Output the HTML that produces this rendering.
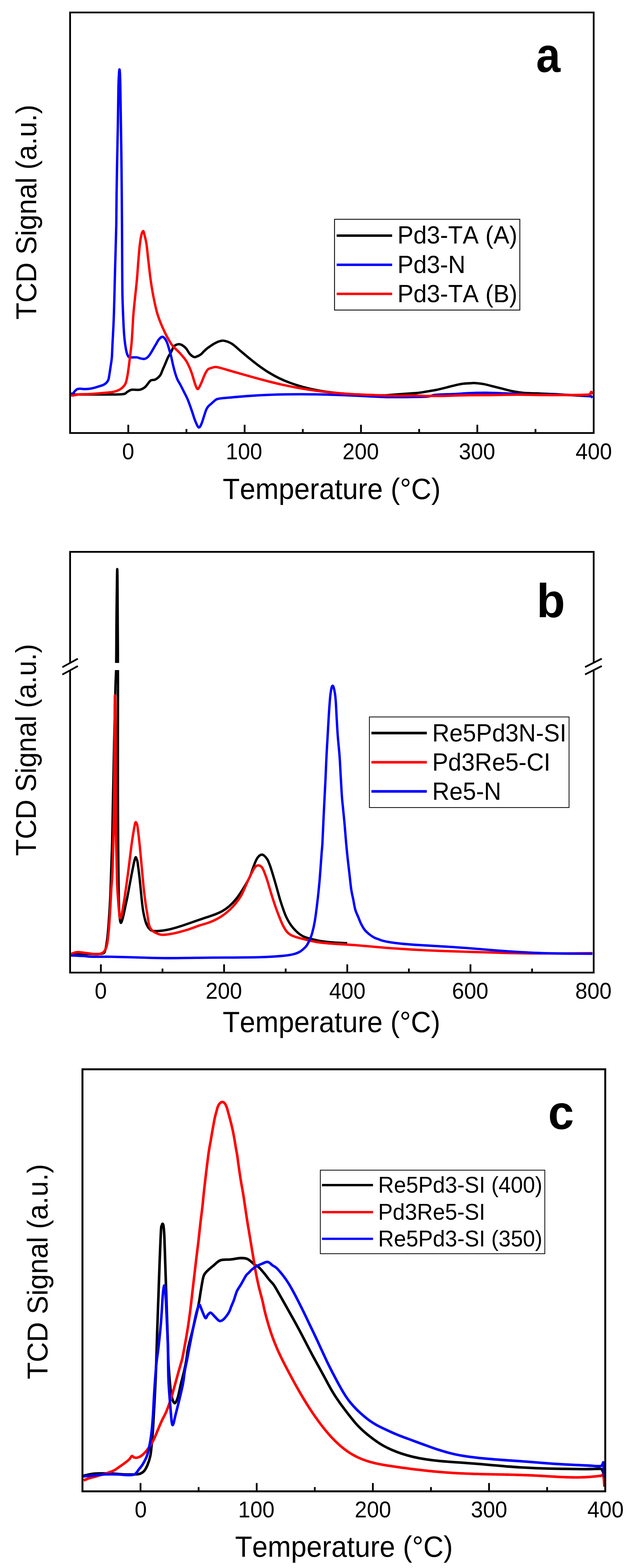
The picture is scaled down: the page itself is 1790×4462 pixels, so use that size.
<!DOCTYPE html>
<html><head><meta charset="utf-8"><title>TCD Signal vs Temperature</title>
<style>html,body{margin:0;padding:0;background:#fff;}svg{display:block;}</style></head>
<body><svg width="1790" height="4462" viewBox="0 0 1790 4462" font-family="'Liberation Sans', Arial, sans-serif" fill="#000" style="font-kerning:none"><g>
<path d="M200,1122.6 C212.9,1122.6 252.88,1122.72 277.4,1122.6 C301.92,1122.48 332.9,1123.18 347.1,1121.9 C361.3,1120.62 358.08,1117.03 362.6,1114.9 C367.12,1112.77 368.38,1110.07 374.2,1109.1 C380.02,1108.13 391.03,1110.4 397.5,1109.1 C403.97,1107.8 407.83,1105.63 413,1101.3 C418.17,1096.97 423.67,1086.65 428.5,1083.1 C433.33,1079.55 437.48,1082.45 442,1080 C446.52,1077.55 452.1,1073.07 455.6,1068.4 C459.1,1063.73 460.43,1057.8 463,1052 C465.57,1046.2 468.5,1039.43 471,1033.6 C473.5,1027.77 475.42,1022.17 478,1017 C480.58,1011.83 483.78,1007.67 486.5,1002.6 C489.22,997.53 491.72,990.2 494.3,986.6 C496.88,983 499.42,982.2 502,981 C504.58,979.8 507.13,979.23 509.8,979.4 C512.47,979.57 514.78,980.07 518,982 C521.22,983.93 525.3,986.68 529.1,991 C532.9,995.32 536.92,1003.72 540.8,1007.9 C544.68,1012.08 549.2,1015 552.4,1016.1 C555.6,1017.2 556.78,1015.78 560,1014.5 C563.22,1013.22 568.37,1010.82 571.7,1008.4 C575.03,1005.98 576.95,1002.9 580,1000 C583.05,997.1 586.67,993.67 590,991 C593.33,988.33 596.77,986.15 600,984 C603.23,981.85 605.73,980.1 609.4,978.1 C613.07,976.1 617.48,973.43 622,972 C626.52,970.57 630.22,968.48 636.5,969.5 C642.78,970.52 651.92,973.42 659.7,978.1 C667.48,982.78 675.15,990.85 683.17,997.56 C691.2,1004.26 699.28,1011.36 707.87,1018.35 C716.46,1025.34 725.5,1032.74 734.73,1039.52 C743.97,1046.29 753.56,1052.99 763.28,1059.01 C773,1065.02 782.68,1070.53 793.04,1075.6 C803.41,1080.67 814.05,1085.19 825.46,1089.41 C836.88,1093.63 849,1097.48 861.52,1100.92 C874.04,1104.36 886.96,1107.42 900.57,1110.04 C914.18,1112.67 928.26,1114.81 943.2,1116.67 C958.14,1118.53 974.1,1119.89 990.24,1121.2 C1006.37,1122.51 1023.37,1123.87 1040,1124.5 C1056.63,1125.13 1073.55,1125.48 1090,1125 C1106.45,1124.52 1124.13,1122.6 1138.7,1121.6 C1153.27,1120.6 1167.72,1119.75 1177.4,1119 C1187.08,1118.25 1190.33,1117.97 1196.8,1117.1 C1203.27,1116.23 1209.75,1114.87 1216.2,1113.8 C1222.65,1112.73 1229.05,1111.92 1235.5,1110.7 C1241.95,1109.48 1248.45,1108.02 1254.9,1106.5 C1261.35,1104.98 1267.75,1103.22 1274.2,1101.6 C1280.65,1099.98 1286.87,1098.35 1293.6,1096.8 C1300.33,1095.25 1306.87,1093.35 1314.6,1092.3 C1322.33,1091.25 1333.85,1090.87 1340,1090.5 C1346.15,1090.13 1345.4,1089.68 1351.5,1090.1 C1357.6,1090.52 1368.25,1091.5 1376.6,1093 C1384.95,1094.5 1392.65,1096.88 1401.6,1099.1 C1410.55,1101.32 1420.75,1103.92 1430.3,1106.3 C1439.85,1108.68 1448.75,1111.43 1458.9,1113.4 C1469.05,1115.37 1479.85,1117.08 1491.2,1118.1 C1502.55,1119.12 1512.08,1118.9 1527,1119.5 C1541.92,1120.1 1562.8,1120.75 1580.7,1121.7 C1598.6,1122.65 1617.08,1124.18 1634.4,1125.2 C1651.72,1126.22 1676.23,1127.37 1684.6,1127.8" fill="none" stroke="#000" stroke-width="6.8" stroke-linejoin="round" stroke-linecap="butt"/>
<path d="M200,1120.5 C201.35,1120.3 206.07,1120.4 208.1,1119.3 C210.13,1118.2 210.38,1115.82 212.2,1113.9 C214.02,1111.98 216.52,1109.1 219,1107.8 C221.48,1106.5 223.48,1106.22 227.1,1106.1 C230.72,1105.98 236.18,1107.05 240.7,1107.1 C245.22,1107.15 249.68,1106.97 254.2,1106.4 C258.72,1105.83 263.28,1104.83 267.8,1103.7 C272.32,1102.57 276.78,1101.07 281.3,1099.6 C285.82,1098.13 291.28,1096.7 294.9,1094.9 C298.52,1093.1 300.75,1091.17 303,1088.8 C305.25,1086.43 307.05,1084.32 308.4,1080.7 C309.75,1077.08 310.3,1071.62 311.1,1067.1 C311.9,1062.58 312.52,1058.12 313.2,1053.6 C313.88,1049.08 314.35,1046.02 315.2,1040 C316.05,1033.98 317.47,1027.85 318.3,1017.5 C319.13,1007.15 319.33,995.5 320.2,977.9 C321.07,960.3 322.62,933.88 323.5,911.9 C324.38,889.92 324.9,867.98 325.5,846 C326.1,824.02 326.55,801 327.1,780 C327.65,759 328.17,743.33 328.8,720 C329.43,696.67 330.4,668.33 330.9,640 C331.4,611.67 331.37,581.67 331.8,550 C332.23,518.33 332.88,483.33 333.5,450 C334.12,416.67 334.92,383.33 335.5,350 C336.08,316.67 336.5,273 337,250 C337.5,227 338,220.75 338.5,212 C339,203.25 339.5,197.5 340,197.5 C340.5,197.5 341.08,203.25 341.5,212 C341.92,220.75 342.08,227 342.5,250 C342.92,273 343.5,316.67 344,350 C344.5,383.33 345.08,416.67 345.5,450 C345.92,483.33 346.17,508.33 346.5,550 C346.83,591.67 347.27,661.67 347.5,700 C347.73,738.33 347.72,755.67 347.9,780 C348.08,804.33 348.08,824.02 348.6,846 C349.12,867.98 350.23,894.32 351,911.9 C351.77,929.48 352.38,940.5 353.2,951.5 C354.02,962.5 354.9,970.2 355.9,977.9 C356.9,985.6 358,992.2 359.2,997.7 C360.4,1003.2 361.68,1007.77 363.1,1010.9 C364.52,1014.03 365.22,1015.48 367.7,1016.5 C370.18,1017.52 374.28,1016.92 378,1017 C381.72,1017.08 386.33,1016.5 390,1017 C393.67,1017.5 396.75,1019.25 400,1020 C403.25,1020.75 406.67,1021.67 409.5,1021.5 C412.33,1021.33 414.48,1020.67 417,1019 C419.52,1017.33 422.1,1014.67 424.6,1011.5 C427.1,1008.33 429.43,1004.25 432,1000 C434.57,995.75 438,989.43 440,986 C442,982.57 442,982.73 444,979.4 C446,976.07 449.1,969.5 452,966 C454.9,962.5 458.73,959.07 461.4,958.4 C464.07,957.73 465.73,959.4 468,962 C470.27,964.6 472.92,969.17 475,974 C477.08,978.83 478.58,984.67 480.5,991 C482.42,997.33 484.53,1004.17 486.5,1012 C488.47,1019.83 490.35,1029.88 492.3,1038 C494.25,1046.12 496.08,1053.7 498.2,1060.7 C500.32,1067.7 502.43,1074.2 505,1080 C507.57,1085.8 510.6,1089.83 513.6,1095.5 C516.6,1101.17 519.77,1107.55 523,1114 C526.23,1120.45 530,1127.37 533,1134.2 C536,1141.03 538.42,1147.9 541,1155 C543.58,1162.1 546.5,1170.8 548.5,1176.8 C550.5,1182.8 551.38,1186.47 553,1191 C554.62,1195.53 556.7,1200.5 558.2,1204 C559.7,1207.5 560.72,1209.92 562,1212 C563.28,1214.08 564.57,1216.33 565.9,1216.5 C567.23,1216.67 568.38,1215.75 570,1213 C571.62,1210.25 573.77,1205 575.6,1200 C577.43,1195 579.07,1188.8 581,1183 C582.93,1177.2 585.2,1169.7 587.2,1165.2 C589.2,1160.7 590.6,1158.78 593,1156 C595.4,1153.22 598.77,1151 601.6,1148.5 C604.43,1146 606.77,1143.27 610,1141 C613.23,1138.73 612.71,1136.61 621,1134.9 C629.29,1133.19 645.2,1132.12 659.72,1130.76 C674.24,1129.4 690.69,1127.92 708.11,1126.74 C725.53,1125.56 745.2,1124.44 764.23,1123.69 C783.26,1122.93 803.01,1122.47 822.31,1122.19 C841.6,1121.92 860.95,1121.89 879.99,1122.03 C899.03,1122.17 917.76,1122.53 936.54,1123.06 C955.32,1123.58 973.8,1124.37 992.66,1125.16 C1011.52,1125.95 1031.81,1126.99 1049.7,1127.8 C1067.59,1128.61 1081.95,1129.63 1100,1130 C1118.05,1130.37 1138.63,1130.22 1158,1130 C1177.37,1129.78 1203.28,1129.72 1216.2,1128.7 C1229.12,1127.68 1226.53,1125.02 1235.5,1123.9 C1244.47,1122.78 1259.25,1122.48 1270,1122 C1280.75,1121.52 1290,1121.53 1300,1121 C1310,1120.47 1316.05,1119.35 1330,1118.8 C1343.95,1118.25 1365.8,1117.58 1383.7,1117.7 C1401.6,1117.82 1416.5,1118.6 1437.4,1119.5 C1458.3,1120.4 1485.22,1122.5 1509.1,1123.1 C1532.98,1123.7 1556.83,1122.75 1580.7,1123.1 C1604.57,1123.45 1635.92,1124.55 1652.3,1125.2 C1668.68,1125.85 1673.38,1125.98 1679,1127 C1684.62,1128.02 1684.83,1130.58 1686,1131.3" fill="none" stroke="#00f" stroke-width="6.8" stroke-linejoin="round" stroke-linecap="butt"/>
<path d="M200,1124 C201.13,1124.23 202.28,1125.73 206.8,1125.4 C211.32,1125.07 219.2,1122.68 227.1,1122 C235,1121.32 245.17,1121.75 254.2,1121.3 C263.23,1120.85 272.27,1120.02 281.3,1119.3 C290.33,1118.58 301.62,1117.68 308.4,1117 C315.18,1116.32 317.48,1116.18 322,1115.2 C326.52,1114.22 331.95,1112.47 335.5,1111.1 C339.05,1109.73 340.57,1108.97 343.3,1107 C346.03,1105.03 349.48,1102.13 351.9,1099.3 C354.32,1096.47 356.03,1094.85 357.8,1090 C359.57,1085.15 361.07,1077.88 362.5,1070.2 C363.93,1062.52 365.2,1052.68 366.4,1043.9 C367.6,1035.12 368.38,1028.5 369.7,1017.5 C371.02,1006.5 373.08,991.1 374.3,977.9 C375.52,964.7 376.13,951.95 377,938.3 C377.87,924.65 378.33,910.72 379.5,896 C380.67,881.28 382.3,866.85 384,850 C385.7,833.15 388.12,812.4 389.7,794.9 C391.28,777.4 392.2,760.82 393.5,745 C394.8,729.18 396.08,712.5 397.5,700 C398.92,687.5 400.38,677.08 402,670 C403.62,662.92 405.7,657.83 407.2,657.5 C408.7,657.17 409.4,661.88 411,668 C412.6,674.12 414.97,682.2 416.8,694.2 C418.63,706.2 420.05,723.22 422,740 C423.95,756.78 426.5,779.9 428.5,794.9 C430.5,809.9 432.08,819.03 434,830 C435.92,840.97 437.83,850.7 440,860.7 C442.17,870.7 444.4,880.95 447,890 C449.6,899.05 452.6,907.17 455.6,915 C458.6,922.83 461.77,929.92 465,937 C468.23,944.08 470.77,949.8 475,957.5 C479.23,965.2 484.6,975.68 490.4,983.2 C496.2,990.72 503.35,995.5 509.8,1002.6 C516.25,1009.7 523.93,1018.05 529.1,1025.8 C534.27,1033.55 537.82,1042.4 540.8,1049.1 C543.78,1055.8 545.07,1060.2 547,1066 C548.93,1071.8 550.73,1078.57 552.4,1083.9 C554.07,1089.23 555.4,1094.15 557,1098 C558.6,1101.85 560.33,1106.33 562,1107 C563.67,1107.67 565.05,1105.2 567,1102 C568.95,1098.8 571.53,1092.8 573.7,1087.8 C575.87,1082.8 578.07,1076.52 580,1072 C581.93,1067.48 583.3,1064.2 585.3,1060.7 C587.3,1057.2 589.28,1053.28 592,1051 C594.72,1048.72 597.42,1048.05 601.6,1047 C605.78,1045.95 608.87,1043.55 617.1,1044.7 C625.33,1045.85 639.29,1050.64 650.99,1053.9 C662.68,1057.16 674.86,1060.72 687.28,1064.25 C699.7,1067.78 712.68,1071.53 725.51,1075.06 C738.33,1078.58 751.32,1082.13 764.23,1085.41 C777.14,1088.69 790.06,1091.87 802.97,1094.74 C815.88,1097.6 828.79,1100.2 841.69,1102.6 C854.6,1105 867.57,1107.16 880.41,1109.14 C893.24,1111.11 905.93,1112.89 918.72,1114.44 C931.5,1116 943.58,1117.3 957.12,1118.46 C970.65,1119.61 984.5,1120.52 999.93,1121.38 C1015.36,1122.23 1033.02,1122.93 1049.7,1123.6 C1066.38,1124.27 1085.17,1125.03 1100,1125.4 C1114.83,1125.77 1125.8,1125.8 1138.7,1125.8 C1151.6,1125.8 1164.48,1125.23 1177.4,1125.4 C1190.32,1125.57 1203.28,1126.57 1216.2,1126.8 C1229.12,1127.03 1240.93,1127.03 1254.9,1126.8 C1268.87,1126.57 1285.82,1125.78 1300,1125.4 C1314.18,1125.02 1323.07,1124.7 1340,1124.5 C1356.93,1124.3 1379.38,1124.43 1401.6,1124.2 C1423.82,1123.97 1449.42,1123.1 1473.3,1123.1 C1497.18,1123.1 1521.03,1124.02 1544.9,1124.2 C1568.77,1124.38 1595.32,1124.4 1616.5,1124.2 C1637.68,1124 1661.42,1123.87 1672,1123 C1682.58,1122.13 1678.17,1120.33 1680,1119 C1681.83,1117.67 1682,1114.5 1683,1115 C1684,1115.5 1685.5,1120.83 1686,1122" fill="none" stroke="#f00" stroke-width="6.8" stroke-linejoin="round" stroke-linecap="butt"/>
<rect x="199.5" y="35.5" width="1490" height="1196.7" fill="none" stroke="#000" stroke-width="5"/>
<line x1="365.05" y1="1229.7" x2="365.05" y2="1208.7" stroke="#000" stroke-width="5"/>
<line x1="696.15" y1="1229.7" x2="696.15" y2="1208.7" stroke="#000" stroke-width="5"/>
<line x1="1027.25" y1="1229.7" x2="1027.25" y2="1208.7" stroke="#000" stroke-width="5"/>
<line x1="1358.35" y1="1229.7" x2="1358.35" y2="1208.7" stroke="#000" stroke-width="5"/>
<line x1="530.6" y1="1229.7" x2="530.6" y2="1220.7" stroke="#000" stroke-width="5"/>
<line x1="861.7" y1="1229.7" x2="861.7" y2="1220.7" stroke="#000" stroke-width="5"/>
<line x1="1192.8" y1="1229.7" x2="1192.8" y2="1220.7" stroke="#000" stroke-width="5"/>
<line x1="1523.9" y1="1229.7" x2="1523.9" y2="1220.7" stroke="#000" stroke-width="5"/>
<text font-size="63" transform="translate(347.51 1307.3) scale(0.9850 1.0220)">0</text>
<text font-size="63" transform="translate(642.66 1307.3) scale(0.9850 1.0220)">100</text>
<text font-size="63" transform="translate(974.75 1307.3) scale(0.9850 1.0220)">200</text>
<text font-size="63" transform="translate(1305.85 1307.3) scale(0.9850 1.0220)">300</text>
<text font-size="63" transform="translate(1637.93 1307.3) scale(0.9850 1.0220)">400</text>
<text font-size="80" transform="translate(633.81 1420.3) scale(0.9955 1.0400)">Temperature (°C)</text>
<text font-size="79" transform="translate(102.7 909.61) rotate(-90) scale(1.0027 1.0400)">TCD Signal (a.u.)</text>
<text font-size="134.4" font-weight="bold" transform="translate(1525.81 204.8) scale(0.9236 1.0300)">a</text>
<rect x="952" y="624" width="527.3" height="258.3" fill="#fff" stroke="#000" stroke-width="2.4"/>
<line x1="958" y1="670.5" x2="1116" y2="670.5" stroke="#000" stroke-width="7"/>
<line x1="958" y1="753.4" x2="1116" y2="753.4" stroke="#00f" stroke-width="7"/>
<line x1="958" y1="836.3" x2="1116" y2="836.3" stroke="#f00" stroke-width="7"/>
<text font-size="68" transform="translate(1131.08 693) scale(1.0033 1.0450)">Pd3-TA (A)</text>
<text font-size="68" transform="translate(1131.08 777) scale(1.0033 1.0450)">Pd3-N</text>
<text font-size="68" transform="translate(1131.08 859.8) scale(1.0033 1.0450)">Pd3-TA (B)</text>
</g>
<g>
<path d="M200,2716 C205,2715.67 218.33,2714.17 230,2714 C241.67,2713.83 260,2715 270,2715 C280,2715 285.22,2715.33 290,2714 C294.78,2712.67 296.28,2713.3 298.7,2707 C301.12,2700.7 302.88,2687.8 304.5,2676.2 C306.12,2664.6 307.1,2653.53 308.4,2637.4 C309.7,2621.27 311.32,2595.63 312.3,2579.4 C313.28,2563.17 313.65,2556.23 314.3,2540 C314.95,2523.77 315.42,2505.33 316.2,2482 C316.98,2458.67 318.2,2430.33 319,2400 C319.8,2369.67 320.33,2333.33 321,2300 C321.67,2266.67 322.33,2233.33 323,2200 C323.67,2166.67 324.25,2133.33 325,2100 C325.75,2066.67 326.88,2025.33 327.5,2000 C328.12,1974.67 328.23,1963.5 328.7,1948 C329.17,1932.5 329.93,1922.17 330.3,1907 C330.67,1891.83 330.75,1875.33 330.9,1857 C331.05,1838.67 331,1822.17 331.2,1797 C331.4,1771.83 331.8,1732.17 332.1,1706 C332.4,1679.83 332.75,1654.42 333,1640 C333.25,1625.58 333.38,1619.5 333.6,1619.5 C333.82,1619.5 334.12,1625.58 334.3,1640 C334.48,1654.42 334.55,1679.83 334.7,1706 C334.85,1732.17 335.05,1771.83 335.2,1797 C335.35,1822.17 335.5,1831.83 335.6,1857 C335.7,1882.17 335.8,1907.5 335.8,1948 C335.8,1988.5 335.63,2049.67 335.6,2100 C335.57,2150.33 335.48,2199.18 335.6,2250 C335.72,2300.82 335.98,2359.73 336.3,2404.9 C336.62,2450.07 337.12,2492.65 337.5,2521 C337.88,2549.35 338.22,2561.33 338.6,2575 C338.98,2588.67 339.32,2595.83 339.8,2603 C340.28,2610.17 340.87,2614.17 341.5,2618 C342.13,2621.83 342.77,2625.33 343.6,2626 C344.43,2626.67 345.27,2625.3 346.5,2622 C347.73,2618.7 349.42,2612.7 351,2606.2 C352.58,2599.7 354.07,2592.03 356,2583 C357.93,2573.97 360.6,2562 362.6,2552 C364.6,2542 366.07,2533.33 368,2523 C369.93,2512.67 371.87,2501.93 374.2,2490 C376.53,2478.07 380.05,2459.82 382,2451.4 C383.95,2442.98 384.73,2440.57 385.9,2439.5 C387.07,2438.43 388.03,2442.38 389,2445 C389.97,2447.62 390.28,2445.75 391.7,2455.2 C393.12,2464.65 395.57,2484.27 397.5,2501.7 C399.43,2519.13 401.72,2545.08 403.3,2559.8 C404.88,2574.52 405.72,2581.62 407,2590 C408.28,2598.38 409.67,2604.27 411,2610.1 C412.33,2615.93 413.38,2620.43 415,2625 C416.62,2629.57 418.87,2634.33 420.7,2637.5 C422.53,2640.67 424.07,2642.17 426,2644 C427.93,2645.83 428.43,2647.61 432.3,2648.5 C436.17,2649.39 442.05,2649.73 449.23,2649.34 C456.4,2648.94 465.07,2648.25 475.38,2646.13 C485.68,2644.01 498.5,2640.45 511.05,2636.62 C523.6,2632.79 538.19,2627.4 550.66,2623.14 C563.13,2618.88 575.7,2614.53 585.88,2611.04 C596.05,2607.56 604.01,2605.22 611.71,2602.22 C619.4,2599.22 625.36,2596.85 632.03,2593.03 C638.7,2589.21 645.18,2584.98 651.73,2579.31 C658.28,2573.63 664.84,2567.03 671.33,2558.99 C677.81,2550.94 684.22,2541.34 690.67,2531.03 C697.11,2520.71 705.11,2507.27 710,2497.1 C714.89,2486.93 716.77,2478.38 720,2470 C723.23,2461.62 726.57,2452.47 729.4,2446.8 C732.23,2441.13 734.42,2438.47 737,2436 C739.58,2433.53 742.4,2432.17 744.9,2432 C747.4,2431.83 749.42,2432.85 752,2435 C754.58,2437.15 758.07,2441.23 760.4,2444.9 C762.73,2448.57 764.07,2452.17 766,2457 C767.93,2461.83 769.07,2464.63 772,2473.9 C774.93,2483.17 779.08,2497.12 783.6,2512.6 C788.12,2528.08 793.93,2550.67 799.1,2566.8 C804.27,2582.93 808.78,2597.13 814.6,2609.4 C820.42,2621.67 826.25,2631.35 834,2640.4 C841.75,2649.45 850.13,2657.88 861.1,2663.7 C872.07,2669.52 886.9,2672.4 899.8,2675.3 C912.7,2678.2 923.8,2679.65 938.5,2681.1 C953.2,2682.55 979.75,2683.52 988,2684" fill="none" stroke="#000" stroke-width="6.8" stroke-linejoin="round" stroke-linecap="butt"/>
<path d="M200,2715.7 C201.93,2714.92 207.73,2712.03 211.6,2711 C215.47,2709.97 217.38,2709.3 223.2,2709.5 C229.02,2709.7 238.75,2711.3 246.5,2712.2 C254.25,2713.1 263.25,2714.58 269.7,2714.9 C276.15,2715.22 281,2715.07 285.2,2714.1 C289.4,2713.13 292,2712.2 294.9,2709.1 C297.8,2706 300.67,2700.98 302.6,2695.5 C304.53,2690.02 305.2,2685.88 306.5,2676.2 C307.8,2666.52 309.12,2653.53 310.4,2637.4 C311.68,2621.27 313.13,2597.3 314.2,2579.4 C315.27,2561.5 315.83,2546.18 316.8,2530 C317.77,2513.82 318.95,2509.6 320,2482.3 C321.05,2455 322.32,2398.47 323.1,2366.2 C323.88,2333.93 324.3,2316.4 324.7,2288.7 C325.1,2261 325.28,2231.45 325.5,2200 C325.72,2168.55 325.85,2130 326,2100 C326.15,2070 326.27,2039.5 326.4,2020 C326.53,2000.5 326.63,1989.5 326.8,1983 C326.97,1976.5 327.17,1978.17 327.4,1981 C327.63,1983.83 327.97,1980.17 328.2,2000 C328.43,2019.83 328.63,2058.33 328.8,2100 C328.97,2141.67 329.05,2205.63 329.2,2250 C329.35,2294.37 329.28,2333.93 329.7,2366.2 C330.12,2398.47 331.05,2417.8 331.7,2443.6 C332.35,2469.4 332.63,2498.42 333.6,2521 C334.57,2543.58 336.52,2565.93 337.5,2579.1 C338.48,2592.27 338.87,2594.43 339.5,2600 C340.13,2605.57 340.55,2610.83 341.3,2612.5 C342.05,2614.17 343.03,2612.33 344,2610 C344.97,2607.67 345.28,2608.17 347.1,2598.5 C348.92,2588.83 351.98,2571.37 354.9,2552 C357.82,2532.63 361.38,2506.82 364.6,2482.3 C367.82,2457.78 371.63,2424.12 374.2,2404.9 C376.77,2385.68 378.37,2376.98 380,2367 C381.63,2357.02 382.9,2349.58 384,2345 C385.1,2340.42 385.68,2339.5 386.6,2339.5 C387.52,2339.5 388.65,2342.48 389.5,2345 C390.35,2347.52 390.37,2344.62 391.7,2354.6 C393.03,2364.58 395.57,2386.2 397.5,2404.9 C399.43,2423.6 401.37,2446.15 403.3,2466.8 C405.23,2487.45 407.17,2510.72 409.1,2528.8 C411.03,2546.88 413.25,2563.43 414.9,2575.3 C416.55,2587.17 417.38,2590.28 419,2600 C420.62,2609.72 422.38,2625.77 424.6,2633.6 C426.82,2641.43 429.73,2643.77 432.3,2647 C434.87,2650.23 435.48,2650.83 440,2653 C444.52,2655.17 451,2659.37 459.4,2660 C467.8,2660.63 478.78,2658.95 490.4,2656.8 C502.02,2654.65 516.18,2650.97 529.1,2647.1 C542.02,2643.23 557.75,2636.97 567.9,2633.6 C578.05,2630.23 583.08,2629.32 590,2626.9 C596.92,2624.48 602.95,2622.13 609.4,2619.1 C615.85,2616.07 622.25,2612.88 628.7,2608.7 C635.15,2604.52 641.65,2599.68 648.1,2594 C654.55,2588.32 660.95,2582.35 667.4,2574.6 C673.85,2566.85 680.33,2559.12 686.8,2547.5 C693.27,2535.88 700.38,2517.17 706.2,2504.9 C712.02,2492.63 717.9,2480.63 721.7,2473.9 C725.5,2467.17 726.75,2466.4 729,2464.5 C731.25,2462.6 733.03,2462.42 735.2,2462.5 C737.37,2462.58 739.73,2463.1 742,2465 C744.27,2466.9 745.73,2467.25 748.8,2473.9 C751.87,2480.55 756.53,2493.28 760.4,2504.9 C764.27,2516.52 767.48,2529.4 772,2543.6 C776.52,2557.8 781.7,2574.62 787.5,2590.1 C793.3,2605.58 800.35,2624.88 806.8,2636.5 C813.25,2648.12 816.91,2653.87 826.2,2659.8 C835.49,2665.73 850.19,2668.62 862.53,2672.09 C874.86,2675.56 887.44,2678.47 900.21,2680.62 C912.98,2682.76 926.04,2683.82 939.14,2684.95 C952.23,2686.08 965.14,2686.48 978.78,2687.38 C992.42,2688.28 1005.89,2689.16 1020.98,2690.36 C1036.07,2691.55 1051.81,2693.1 1069.31,2694.57 C1086.8,2696.03 1105.77,2697.72 1125.93,2699.14 C1146.09,2700.57 1168.41,2701.98 1190.28,2703.14 C1212.15,2704.29 1235.69,2705.26 1257.15,2706.08 C1278.61,2706.91 1299.08,2707.45 1319.06,2708.09 C1339.03,2708.73 1356.92,2709.29 1377.02,2709.91 C1397.12,2710.53 1417.31,2711.29 1439.67,2711.82 C1462.03,2712.35 1485.56,2712.87 1511.18,2713.09 C1536.79,2713.32 1564.19,2713.3 1593.33,2713.19 C1622.47,2713.07 1670.56,2712.53 1686,2712.4" fill="none" stroke="#f00" stroke-width="6.8" stroke-linejoin="round" stroke-linecap="butt"/>
<path d="M200,2718.8 C206.45,2719.12 228.37,2720.07 238.7,2720.7 C249.03,2721.33 249.08,2722.28 262,2722.6 C274.92,2722.92 294.27,2722.27 316.2,2722.6 C338.13,2722.93 367.8,2723.95 393.6,2724.6 C419.4,2725.25 436.6,2726.4 471,2726.5 C505.4,2726.6 567.27,2725.48 600,2725.2 C632.73,2724.92 643.25,2725.05 667.4,2724.8 C691.55,2724.55 722.8,2724.42 744.9,2723.7 C767,2722.98 787.1,2721.47 800,2720.5 C812.9,2719.53 815.63,2718.98 822.3,2717.9 C828.97,2716.82 834.83,2715.62 840,2714 C845.17,2712.38 849.3,2710.53 853.3,2708.2 C857.3,2705.87 860.77,2702.9 864,2700 C867.23,2697.1 869.87,2694.97 872.7,2690.8 C875.53,2686.63 878.42,2680.82 881,2675 C883.58,2669.18 885.72,2664.88 888.2,2655.9 C890.68,2646.92 893.33,2636.58 895.9,2621.1 C898.47,2605.62 901.33,2582.37 903.6,2563 C905.87,2543.63 907.55,2527.5 909.5,2504.9 C911.45,2482.3 913.97,2444.85 915.3,2427.4 C916.63,2409.95 916.58,2416.9 917.5,2400.2 C918.42,2383.5 919.77,2349.08 920.8,2327.2 C921.83,2305.32 922.73,2288.32 923.7,2268.9 C924.67,2249.48 925.7,2230.12 926.6,2210.7 C927.5,2191.28 928.13,2171.82 929.1,2152.4 C930.07,2132.98 931.3,2113.62 932.4,2094.2 C933.5,2074.78 934.73,2051.6 935.7,2035.9 C936.67,2020.2 937.45,2009.7 938.2,2000 C938.95,1990.3 939.48,1984.03 940.2,1977.7 C940.92,1971.37 941.78,1965.95 942.5,1962 C943.22,1958.05 943.82,1955.75 944.5,1954 C945.18,1952.25 945.9,1951.5 946.6,1951.5 C947.3,1951.5 947.97,1952.25 948.7,1954 C949.43,1955.75 950.15,1958.05 951,1962 C951.85,1965.95 953,1971.37 953.8,1977.7 C954.6,1984.03 955.15,1990.3 955.8,2000 C956.45,2009.7 956.8,2020.2 957.7,2035.9 C958.6,2051.6 959.75,2074.78 961.2,2094.2 C962.65,2113.62 964.98,2132.98 966.4,2152.4 C967.82,2171.82 968.57,2191.28 969.7,2210.7 C970.83,2230.12 972.12,2254.02 973.2,2268.9 C974.28,2283.78 974.95,2287.07 976.2,2300 C977.45,2312.93 979.32,2331.02 980.7,2346.5 C982.08,2361.98 983.12,2377.42 984.5,2392.9 C985.88,2408.38 987.33,2423.7 989,2439.4 C990.67,2455.1 992.75,2471.88 994.5,2487.1 C996.25,2502.32 997.7,2518.6 999.5,2530.7 C1001.3,2542.8 1003.37,2550.02 1005.3,2559.7 C1007.23,2569.38 1008.67,2580.33 1011.1,2588.8 C1013.53,2597.27 1017.23,2603.97 1019.9,2610.5 C1022.57,2617.03 1024.2,2622.18 1027.1,2628 C1030,2633.82 1033.67,2640.57 1037.3,2645.4 C1040.93,2650.23 1044.55,2653.37 1048.9,2657 C1053.25,2660.63 1058.57,2664.53 1063.4,2667.2 C1068.23,2669.87 1073.47,2671.32 1077.9,2673 C1082.33,2674.68 1084.38,2675.85 1090,2677.3 C1095.62,2678.75 1102.51,2680.29 1111.64,2681.69 C1120.77,2683.1 1131.7,2684.51 1144.79,2685.75 C1157.88,2686.99 1174.26,2688.09 1190.19,2689.14 C1206.13,2690.2 1224.15,2691.1 1240.4,2692.07 C1256.65,2693.04 1272.93,2694 1287.67,2694.96 C1302.4,2695.93 1315.61,2696.88 1328.81,2697.86 C1342.02,2698.85 1353.64,2699.81 1366.89,2700.88 C1380.15,2701.94 1393.6,2703.13 1408.34,2704.27 C1423.09,2705.41 1439.32,2706.66 1455.37,2707.72 C1471.41,2708.79 1487.67,2709.81 1504.62,2710.63 C1521.57,2711.45 1538.19,2712.14 1557.07,2712.66 C1575.96,2713.18 1596.46,2713.49 1617.95,2713.74 C1639.44,2714 1674.66,2714.12 1686,2714.2" fill="none" stroke="#00f" stroke-width="6.8" stroke-linejoin="round" stroke-linecap="butt"/>
<rect x="320" y="1886.5" width="25" height="20.3" fill="#fff"/>
<rect x="199.5" y="1570.4" width="1490" height="1197.3" fill="none" stroke="#000" stroke-width="5"/>
<line x1="287.1" y1="2765.2" x2="287.1" y2="2744.2" stroke="#000" stroke-width="5"/>
<line x1="637.68" y1="2765.2" x2="637.68" y2="2744.2" stroke="#000" stroke-width="5"/>
<line x1="988.26" y1="2765.2" x2="988.26" y2="2744.2" stroke="#000" stroke-width="5"/>
<line x1="1338.84" y1="2765.2" x2="1338.84" y2="2744.2" stroke="#000" stroke-width="5"/>
<line x1="462.39" y1="2765.2" x2="462.39" y2="2756.2" stroke="#000" stroke-width="5"/>
<line x1="812.97" y1="2765.2" x2="812.97" y2="2756.2" stroke="#000" stroke-width="5"/>
<line x1="1163.55" y1="2765.2" x2="1163.55" y2="2756.2" stroke="#000" stroke-width="5"/>
<line x1="1514.13" y1="2765.2" x2="1514.13" y2="2756.2" stroke="#000" stroke-width="5"/>
<text font-size="63" transform="translate(269.56 2842.2) scale(0.9850 1.0220)">0</text>
<text font-size="63" transform="translate(585.18 2842.2) scale(0.9850 1.0220)">200</text>
<text font-size="63" transform="translate(936.74 2842.2) scale(0.9850 1.0220)">400</text>
<text font-size="63" transform="translate(1286.34 2842.2) scale(0.9850 1.0220)">600</text>
<text font-size="63" transform="translate(1636.92 2842.2) scale(0.9850 1.0220)">800</text>
<text font-size="80" transform="translate(633.81 2937.3) scale(0.9937 1.0400)">Temperature (°C)</text>
<text font-size="79" transform="translate(101.7 2435.78) rotate(-90) scale(0.9889 1.0400)">TCD Signal (a.u.)</text>
<text font-size="134.4" font-weight="bold" transform="translate(1526.91 1755.5) scale(0.9882 1.0070)">b</text>
<rect x="195.5" y="1886" width="8" height="22" fill="#fff"/>
<rect x="1685.5" y="1886" width="8" height="22" fill="#fff"/>
<line x1="177.5" y1="1898.6" x2="221.5" y2="1874.4" stroke="#000" stroke-width="5"/>
<line x1="177.5" y1="1919.6" x2="221.5" y2="1895.4" stroke="#000" stroke-width="5"/>
<line x1="1665" y1="1898.3" x2="1712.5" y2="1874.2" stroke="#000" stroke-width="5"/>
<line x1="1665" y1="1919.3" x2="1712.5" y2="1895.2" stroke="#000" stroke-width="5"/>
<rect x="1051.2" y="2040.2" width="568.2" height="257.8" fill="#fff" stroke="#000" stroke-width="2.2"/>
<line x1="1057" y1="2086" x2="1214.6" y2="2086" stroke="#000" stroke-width="7.3"/>
<line x1="1057" y1="2169.2" x2="1214.6" y2="2169.2" stroke="#f00" stroke-width="7.3"/>
<line x1="1057" y1="2252" x2="1214.6" y2="2252" stroke="#00f" stroke-width="7.3"/>
<text font-size="68" transform="translate(1230 2110.1) scale(1.0003 1.0450)">Re5Pd3N-SI</text>
<text font-size="68" transform="translate(1230 2192.9) scale(1.0006 1.0450)">Pd3Re5-CI</text>
<text font-size="68" transform="translate(1230 2276) scale(1.0000 1.0450)">Re5-N</text>
</g>
<g>
<path d="M237,4199.5 C242,4198.53 254.27,4194.8 267,4193.7 C279.73,4192.6 299.2,4192.58 313.4,4192.9 C327.6,4193.22 340.58,4195.15 352.2,4195.6 C363.82,4196.05 375.37,4195.92 383.1,4195.6 C390.83,4195.28 394.08,4195.32 398.6,4193.7 C403.12,4192.08 406.65,4190.1 410.2,4185.9 C413.75,4181.7 416.98,4175.6 419.9,4168.5 C422.82,4161.4 425.77,4152.67 427.7,4143.3 C429.63,4133.93 430.22,4125.2 431.5,4112.3 C432.78,4099.4 434.1,4085.25 435.4,4065.9 C436.7,4046.55 438,4020.73 439.3,3996.2 C440.6,3971.67 442.17,3943.07 443.2,3918.7 C444.23,3894.33 444.8,3871.92 445.5,3850 C446.2,3828.08 446.52,3813.8 447.4,3787.2 C448.28,3760.6 449.67,3722.67 450.8,3690.4 C451.93,3658.13 452.98,3625.07 454.2,3593.6 C455.42,3562.13 457.05,3519.37 458.1,3501.6 C459.15,3483.83 459.7,3490.18 460.5,3487 C461.3,3483.82 462.07,3482 462.9,3482.5 C463.73,3483 464.68,3483.58 465.5,3490 C466.32,3496.42 467.02,3503.73 467.8,3521 C468.58,3538.27 469.4,3569.4 470.2,3593.6 C471,3617.8 471.8,3642 472.6,3666.2 C473.4,3690.4 474.2,3714.6 475,3738.8 C475.8,3763 476.65,3787.87 477.4,3811.4 C478.15,3834.93 478.43,3858.88 479.5,3880 C480.57,3901.12 482.63,3924.43 483.8,3938.1 C484.97,3951.77 485.53,3955.35 486.5,3962 C487.47,3968.65 488.52,3973.67 489.6,3978 C490.68,3982.33 491.7,3985.5 493,3988 C494.3,3990.5 495.9,3993.17 497.4,3993 C498.9,3992.83 500.38,3990.35 502,3987 C503.62,3983.65 504.97,3981.05 507.1,3972.9 C509.23,3964.75 511.9,3950.35 514.8,3938.1 C517.7,3925.85 521.92,3910.75 524.5,3899.4 C527.08,3888.05 528.47,3880.63 530.3,3870 C532.13,3859.37 532.22,3851.02 535.5,3835.6 C538.78,3820.18 545.15,3797.67 550,3777.5 C554.85,3757.33 560.97,3732.35 564.6,3714.6 C568.23,3696.85 569.38,3684.72 571.8,3671 C574.22,3657.28 576.27,3641.17 579.1,3632.3 C581.93,3623.43 583.97,3623.03 588.8,3617.8 C593.63,3612.57 601.65,3606.15 608.1,3600.9 C614.55,3595.65 619.43,3589.13 627.5,3586.3 C635.57,3583.47 646.82,3584.95 656.5,3583.9 C666.18,3582.85 677.53,3580.15 685.6,3580 C693.67,3579.85 698.45,3579.92 704.9,3583 C711.35,3586.08 718.98,3594.58 724.3,3598.5 C729.62,3602.42 732.13,3602.27 736.8,3606.5 C741.47,3610.73 747.47,3618.1 752.3,3623.9 C757.13,3629.7 761.28,3635.82 765.8,3641.3 C770.32,3646.78 775.14,3650.86 779.4,3656.8 C783.66,3662.74 787.34,3670.02 791.38,3676.95 C795.41,3683.88 799.51,3691.14 803.6,3698.36 C807.69,3705.59 811.8,3712.95 815.94,3720.31 C820.09,3727.66 824.21,3734.9 828.46,3742.49 C832.71,3750.08 837.07,3757.83 841.45,3765.84 C845.83,3773.84 850.38,3782.28 854.76,3790.52 C859.13,3798.77 863.52,3807.27 867.71,3815.33 C871.9,3823.4 875.97,3831.38 879.91,3838.91 C883.85,3846.45 887.64,3853.64 891.36,3860.55 C895.08,3867.46 898.65,3873.89 902.23,3880.38 C905.8,3886.87 909.31,3893.1 912.82,3899.49 C916.33,3905.88 919.84,3912.31 923.31,3918.73 C926.77,3925.14 930.15,3931.63 933.6,3937.96 C937.05,3944.29 940.44,3950.6 944.01,3956.71 C947.59,3962.82 951.24,3968.76 955.06,3974.61 C958.88,3980.46 962.8,3986.03 966.93,3991.82 C971.06,3997.61 975.4,4003.39 979.86,4009.34 C984.32,4015.29 989.04,4021.56 993.69,4027.51 C998.34,4033.45 1003.04,4039.48 1007.77,4045.03 C1012.49,4050.57 1017.14,4055.76 1022.04,4060.76 C1026.94,4065.77 1031.88,4070.39 1037.17,4075.05 C1042.45,4079.71 1047.97,4084.23 1053.76,4088.72 C1059.55,4093.22 1065.59,4097.75 1071.91,4102.03 C1078.23,4106.32 1084.59,4110.49 1091.67,4114.43 C1098.75,4118.37 1106,4122.04 1114.4,4125.66 C1122.8,4129.28 1131.97,4132.84 1142.06,4136.16 C1152.14,4139.48 1163.33,4142.82 1174.9,4145.59 C1186.47,4148.35 1198.96,4150.77 1211.47,4152.73 C1223.98,4154.69 1236.98,4156.06 1249.97,4157.37 C1262.95,4158.68 1276.18,4159.59 1289.38,4160.58 C1302.57,4161.58 1315.93,4162.38 1329.12,4163.34 C1342.32,4164.31 1355.48,4165.27 1368.53,4166.36 C1381.58,4167.46 1394.49,4168.77 1407.43,4169.92 C1420.37,4171.07 1433.26,4172.28 1446.17,4173.26 C1459.08,4174.24 1471.99,4175.05 1484.89,4175.81 C1497.8,4176.56 1510.7,4177.25 1523.61,4177.8 C1536.51,4178.35 1549.42,4178.8 1562.33,4179.13 C1575.24,4179.47 1588.24,4179.6 1601.07,4179.81 C1613.9,4180.01 1626.89,4180.23 1639.31,4180.35 C1651.74,4180.47 1663.91,4180.6 1675.61,4180.52 C1687.31,4180.45 1703.1,4179.32 1709.5,4179.9 C1715.9,4180.48 1712.72,4181.93 1714,4184 C1715.28,4186.07 1716.67,4190.92 1717.2,4192.3" fill="none" stroke="#000" stroke-width="7.3" stroke-linejoin="round" stroke-linecap="butt"/>
<path d="M238,4213 C240.25,4212.03 246.67,4208.82 251.5,4207.2 C256.33,4205.58 261.2,4204.92 267,4203.3 C272.8,4201.68 279.85,4199.43 286.3,4197.5 C292.75,4195.57 299.23,4193.95 305.7,4191.7 C312.17,4189.45 319.28,4187.03 325.1,4184 C330.92,4180.97 335.45,4177.05 340.6,4173.5 C345.75,4169.95 351.48,4166.12 356,4162.7 C360.52,4159.28 364.47,4156.23 367.7,4153 C370.93,4149.77 373.15,4144.27 375.4,4143.3 C377.65,4142.33 378.62,4146.42 381.2,4147.2 C383.78,4147.98 387.35,4148.78 390.9,4148 C394.45,4147.22 398.63,4145.22 402.5,4142.5 C406.37,4139.78 410.23,4136.08 414.1,4131.7 C417.97,4127.32 421.82,4122.02 425.7,4116.2 C429.58,4110.38 433.52,4104.55 437.4,4096.8 C441.28,4089.05 445.13,4078.73 449,4069.7 C452.87,4060.67 456.73,4050.98 460.6,4042.6 C464.47,4034.22 468.33,4028.43 472.2,4019.4 C476.07,4010.37 479.93,4000.02 483.8,3988.4 C487.67,3976.78 491.52,3963.25 495.4,3949.7 C499.28,3936.15 503.87,3918.72 507.1,3907.1 C510.33,3895.48 512.65,3887.88 514.8,3880 C516.95,3872.12 516.95,3875.27 520,3859.8 C523.05,3844.33 529.77,3807.17 533.1,3787.2 C536.43,3767.23 538.03,3754.53 540,3740 C541.97,3725.47 543.23,3714.18 544.9,3700 C546.57,3685.82 548.38,3668.87 550,3654.9 C551.62,3640.93 553.08,3629.12 554.6,3616.2 C556.12,3603.28 557.55,3590.32 559.1,3577.4 C560.65,3564.48 562.63,3549.33 563.9,3538.7 C565.17,3528.07 565.52,3524.23 566.7,3513.6 C567.88,3502.97 569.48,3487.8 571,3474.9 C572.52,3462 574.35,3449.12 575.8,3436.2 C577.25,3423.28 578.32,3410.32 579.7,3397.4 C581.08,3384.48 582.48,3372.67 584.1,3358.7 C585.72,3344.73 587.93,3325.63 589.4,3313.6 C590.87,3301.57 591.83,3294.25 592.9,3286.5 C593.97,3278.75 594.67,3273.88 595.8,3267.1 C596.93,3260.32 598.4,3253.22 599.7,3245.8 C601,3238.38 602.32,3230.02 603.6,3222.6 C604.88,3215.18 606.02,3208.72 607.4,3201.3 C608.78,3193.88 610.45,3184.55 611.9,3178.1 C613.35,3171.65 614.75,3167.45 616.1,3162.6 C617.45,3157.75 618.38,3152.85 620,3149 C621.62,3145.15 623.7,3141.7 625.8,3139.5 C627.9,3137.3 630.33,3135.8 632.6,3135.8 C634.87,3135.8 637.3,3136.97 639.4,3139.5 C641.5,3142.03 643.58,3146.83 645.2,3151 C646.82,3155.17 647.48,3158.7 649.1,3164.5 C650.72,3170.3 653.13,3179.02 654.9,3185.8 C656.67,3192.58 658.25,3199.07 659.7,3205.2 C661.15,3211.33 662.3,3216.15 663.6,3222.6 C664.9,3229.05 666.22,3236.48 667.5,3243.9 C668.78,3251.32 670.02,3259.68 671.3,3267.1 C672.58,3274.52 674,3280.65 675.2,3288.4 C676.4,3296.15 676.83,3301.88 678.5,3313.6 C680.17,3325.32 682.95,3344.73 685.2,3358.7 C687.45,3372.67 689.9,3384.48 692,3397.4 C694.1,3410.32 695.87,3423.28 697.8,3436.2 C699.73,3449.12 701.93,3464.27 703.6,3474.9 C705.27,3485.53 706.3,3490.98 707.8,3500 C709.3,3509.02 711,3519.32 712.6,3529 C714.2,3538.68 715.78,3548.42 717.4,3558.1 C719.02,3567.78 720.68,3577.42 722.3,3587.1 C723.92,3596.78 725.33,3606.52 727.1,3616.2 C728.87,3625.88 730.97,3636.17 732.9,3645.2 C734.83,3654.23 736.43,3661.27 738.7,3670.4 C740.97,3679.53 744.2,3690.52 746.5,3700 C748.8,3709.48 750.5,3718.86 752.5,3727.31 C754.5,3735.75 756.5,3743.29 758.5,3750.68 C760.5,3758.07 762.5,3765.02 764.5,3771.66 C766.5,3778.31 768.5,3784.55 770.5,3790.55 C772.5,3796.54 774.5,3802.19 776.5,3807.64 C778.5,3813.09 780.5,3818.23 782.5,3823.23 C784.5,3828.22 786.5,3832.97 788.5,3837.61 C790.5,3842.25 792.5,3846.7 794.5,3851.05 C796.5,3855.4 798.5,3859.59 800.5,3863.72 C802.5,3867.84 804.5,3871.83 806.5,3875.79 C808.5,3879.74 810.5,3883.6 812.5,3887.44 C814.5,3891.28 816.5,3895.05 818.5,3898.83 C820.5,3902.61 822.5,3906.37 824.5,3910.12 C826.5,3913.87 828.5,3917.61 830.5,3921.32 C832.5,3925.03 834.5,3928.72 836.5,3932.37 C838.5,3936.03 840.5,3939.65 842.5,3943.24 C844.5,3946.83 846.5,3950.38 848.5,3953.89 C850.5,3957.41 852.5,3960.89 854.5,3964.32 C856.5,3967.76 858.5,3971.16 860.5,3974.53 C862.5,3977.89 864.5,3981.21 866.5,3984.5 C868.5,3987.78 870.5,3991.03 872.5,3994.23 C874.5,3997.43 876.5,4000.6 878.5,4003.72 C880.5,4006.85 882.5,4009.93 884.5,4012.97 C886.5,4016.01 888.5,4019.01 890.5,4021.97 C892.5,4024.92 894.5,4027.84 896.5,4030.71 C898.5,4033.58 900.5,4036.41 902.5,4039.2 C904.5,4041.98 906.5,4044.72 908.5,4047.42 C910.5,4050.12 912.5,4052.77 914.5,4055.38 C916.5,4057.98 918.5,4060.55 920.5,4063.06 C922.5,4065.58 924.5,4068.05 926.5,4070.47 C928.5,4072.89 930.5,4075.27 932.5,4077.6 C934.5,4079.93 936.5,4082.21 938.5,4084.44 C940.5,4086.67 942.5,4088.86 944.5,4091 C946.5,4093.13 948.5,4095.22 950.5,4097.26 C952.5,4099.3 954.5,4101.28 956.5,4103.22 C958.5,4105.16 960.5,4107.05 962.5,4108.88 C964.5,4110.72 966.5,4112.5 968.5,4114.24 C970.5,4115.97 972.5,4117.65 974.5,4119.28 C976.5,4120.91 978.5,4122.49 980.5,4124.01 C982.5,4125.53 984.5,4127 986.5,4128.42 C988.5,4129.84 990.5,4131.21 992.5,4132.53 C994.5,4133.85 996.5,4135.12 998.5,4136.35 C1000.5,4137.58 1002.5,4138.75 1004.5,4139.89 C1006.5,4141.03 1008.5,4142.12 1010.5,4143.17 C1012.5,4144.22 1014.5,4145.23 1016.5,4146.2 C1018.5,4147.17 1020.5,4148.1 1022.5,4148.99 C1024.5,4149.88 1026.5,4150.74 1028.5,4151.56 C1030.5,4152.38 1032.5,4153.17 1034.5,4153.92 C1036.5,4154.68 1038.5,4155.4 1040.5,4156.09 C1042.5,4156.78 1044.5,4157.44 1046.5,4158.08 C1048.5,4158.71 1050.5,4159.32 1052.5,4159.9 C1054.5,4160.48 1056.5,4161.03 1058.5,4161.57 C1060.5,4162.1 1062.5,4162.61 1064.5,4163.09 C1066.5,4163.58 1068.5,4164.05 1070.5,4164.5 C1072.5,4164.95 1074.5,4165.37 1076.5,4165.79 C1078.5,4166.2 1080.5,4166.6 1082.5,4166.98 C1084.5,4167.36 1086.5,4167.73 1088.5,4168.09 C1090.5,4168.45 1092.5,4168.79 1094.5,4169.13 C1096.5,4169.46 1098.5,4169.79 1100.5,4170.11 C1102.5,4170.43 1104.5,4170.74 1106.5,4171.04 C1108.5,4171.35 1110.5,4171.65 1112.5,4171.95 C1114.5,4172.25 1116.5,4172.55 1118.5,4172.84 C1120.5,4173.14 1122.5,4173.43 1124.5,4173.72 C1126.5,4174.01 1128.5,4174.3 1130.5,4174.59 C1132.5,4174.88 1134.5,4175.16 1136.5,4175.44 C1138.5,4175.73 1140.5,4176.01 1142.5,4176.28 C1144.5,4176.56 1146.5,4176.84 1148.5,4177.11 C1150.5,4177.39 1152.5,4177.66 1154.5,4177.92 C1156.5,4178.19 1158.5,4178.46 1160.5,4178.72 C1162.5,4178.99 1164.5,4179.25 1166.5,4179.51 C1168.5,4179.76 1170.5,4180.02 1172.5,4180.27 C1174.5,4180.53 1176.5,4180.78 1178.5,4181.03 C1180.5,4181.27 1182.5,4181.52 1184.5,4181.76 C1186.5,4182 1188.5,4182.24 1190.5,4182.48 C1192.5,4182.72 1194.5,4182.95 1196.5,4183.18 C1198.5,4183.41 1200.5,4183.64 1202.5,4183.86 C1204.5,4184.09 1206.5,4184.31 1208.5,4184.53 C1210.5,4184.75 1212.5,4184.97 1214.5,4185.18 C1216.5,4185.39 1218.5,4185.6 1220.5,4185.81 C1222.5,4186.01 1224.5,4186.22 1226.5,4186.41 C1228.5,4186.61 1230.5,4186.81 1232.5,4187 C1234.5,4187.2 1236.5,4187.39 1238.5,4187.57 C1240.5,4187.76 1242.5,4187.94 1244.5,4188.12 C1246.5,4188.3 1248.5,4188.48 1250.5,4188.65 C1252.5,4188.82 1254.5,4188.99 1256.5,4189.15 C1258.5,4189.32 1260.5,4189.48 1262.5,4189.64 C1264.5,4189.8 1266.5,4189.95 1268.5,4190.1 C1270.5,4190.25 1272.5,4190.4 1274.5,4190.54 C1276.5,4190.68 1278.5,4190.82 1280.5,4190.95 C1282.5,4191.09 1284.5,4191.22 1286.5,4191.35 C1288.5,4191.47 1290.5,4191.59 1292.5,4191.71 C1294.5,4191.83 1296.5,4191.95 1298.5,4192.06 C1300.5,4192.17 1302.5,4192.28 1304.5,4192.38 C1306.5,4192.48 1308.5,4192.58 1310.5,4192.68 C1312.5,4192.78 1314.5,4192.87 1316.5,4192.96 C1318.5,4193.05 1320.5,4193.14 1322.5,4193.22 C1324.5,4193.31 1326.5,4193.39 1328.5,4193.47 C1330.5,4193.54 1332.5,4193.62 1334.5,4193.69 C1336.5,4193.77 1338.5,4193.84 1340.5,4193.91 C1342.5,4193.97 1344.5,4194.04 1346.5,4194.1 C1348.5,4194.17 1350.5,4194.23 1352.5,4194.29 C1354.5,4194.35 1356.5,4194.41 1358.5,4194.46 C1360.5,4194.52 1362.5,4194.57 1364.5,4194.62 C1366.5,4194.68 1368.5,4194.73 1370.5,4194.78 C1372.5,4194.82 1374.5,4194.87 1376.5,4194.92 C1378.5,4194.97 1380.5,4195.01 1382.5,4195.05 C1384.5,4195.1 1386.5,4195.14 1388.5,4195.18 C1390.5,4195.23 1392.5,4195.27 1394.5,4195.31 C1396.5,4195.35 1398.5,4195.39 1400.5,4195.43 C1402.5,4195.47 1404.5,4195.51 1406.5,4195.55 C1408.5,4195.59 1410.5,4195.63 1412.5,4195.67 C1414.5,4195.7 1416.5,4195.74 1418.5,4195.78 C1420.5,4195.82 1422.5,4195.86 1424.5,4195.9 C1426.5,4195.94 1428.5,4195.98 1430.5,4196.02 C1432.5,4196.06 1434.5,4196.1 1436.5,4196.14 C1438.5,4196.18 1440.5,4196.22 1442.5,4196.26 C1444.5,4196.31 1446.5,4196.35 1448.5,4196.39 C1450.5,4196.44 1452.5,4196.48 1454.5,4196.53 C1456.5,4196.58 1458.5,4196.62 1460.5,4196.67 C1462.5,4196.72 1464.5,4196.77 1466.5,4196.83 C1468.5,4196.88 1470.5,4196.93 1472.5,4196.99 C1474.5,4197.05 1476.5,4197.1 1478.5,4197.16 C1480.5,4197.22 1482.5,4197.29 1484.5,4197.35 C1486.5,4197.41 1488.5,4197.48 1490.5,4197.55 C1492.5,4197.62 1494.5,4197.69 1496.5,4197.76 C1498.5,4197.84 1500.5,4197.91 1502.5,4197.99 C1504.5,4198.07 1506.5,4198.15 1508.5,4198.24 C1510.5,4198.32 1512.5,4198.41 1514.5,4198.5 C1516.5,4198.59 1518.5,4198.69 1520.5,4198.79 C1522.5,4198.88 1524.5,4198.98 1526.5,4199.09 C1528.5,4199.19 1530.5,4199.3 1532.5,4199.41 C1534.5,4199.52 1536.5,4199.63 1538.5,4199.75 C1540.5,4199.86 1542.5,4199.98 1544.5,4200.09 C1546.5,4200.21 1548.5,4200.33 1550.5,4200.45 C1552.5,4200.57 1554.5,4200.69 1556.5,4200.81 C1558.5,4200.93 1560.5,4201.05 1562.5,4201.17 C1564.5,4201.29 1566.5,4201.41 1568.5,4201.52 C1570.5,4201.64 1572.5,4201.76 1574.5,4201.87 C1576.5,4201.98 1578.5,4202.1 1580.5,4202.2 C1582.5,4202.31 1584.5,4202.42 1586.5,4202.52 C1588.5,4202.63 1590.5,4202.73 1592.5,4202.82 C1594.5,4202.92 1596.5,4203.01 1598.5,4203.1 C1600.5,4203.19 1602.5,4203.27 1604.5,4203.35 C1606.5,4203.43 1608.5,4203.5 1610.5,4203.57 C1612.5,4203.64 1614.5,4203.7 1616.5,4203.76 C1618.5,4203.81 1620.5,4203.86 1622.5,4203.9 C1624.5,4203.94 1626.5,4203.98 1628.5,4204.01 C1630.5,4204.03 1632.5,4204.05 1634.5,4204.07 C1636.5,4204.08 1638.5,4204.08 1640.5,4204.07 C1642.5,4204.07 1644.5,4204.05 1646.5,4204.03 C1648.5,4204 1650.5,4203.97 1652.5,4203.93 C1654.5,4203.88 1656.5,4203.83 1658.5,4203.76 C1660.5,4203.69 1662.5,4203.62 1664.5,4203.53 C1666.5,4203.44 1668.5,4203.34 1670.5,4203.23 C1672.5,4203.12 1674.5,4203 1676.5,4202.86 C1678.5,4202.72 1680.5,4202.58 1682.5,4202.41 C1684.5,4202.25 1686.5,4202.07 1688.5,4201.88 C1690.5,4201.69 1692.5,4201.49 1694.5,4201.27 C1696.5,4201.05 1698.5,4200.82 1700.5,4200.57 C1702.5,4200.32 1705,4199.87 1706.5,4199.78 C1708,4199.68 1707.92,4200.46 1709.5,4200 C1711.08,4199.54 1714.5,4195.33 1716,4197 C1717.5,4198.67 1717.83,4204.33 1718.5,4210 C1719.17,4215.67 1719.75,4227.5 1720,4231" fill="none" stroke="#f00" stroke-width="7.3" stroke-linejoin="round" stroke-linecap="butt"/>
<path d="M237,4201.4 C240.07,4201.08 249.12,4200.15 255.4,4199.5 C261.68,4198.85 267.6,4198.15 274.7,4197.5 C281.8,4196.85 288.32,4195.92 298,4195.6 C307.68,4195.28 321.83,4195.28 332.8,4195.6 C343.77,4195.92 355.42,4197.5 363.8,4197.5 C372.18,4197.5 377.93,4198.18 383.1,4195.6 C388.27,4193.02 390.92,4186.85 394.8,4182 C398.68,4177.15 402.53,4172.95 406.4,4166.5 C410.27,4160.05 414.78,4152.33 418,4143.3 C421.22,4134.27 423.45,4123.92 425.7,4112.3 C427.95,4100.68 429.88,4087.8 431.5,4073.6 C433.12,4059.4 434.1,4046.47 435.4,4027.1 C436.7,4007.73 437.68,3981.92 439.3,3957.4 C440.92,3932.88 443.18,3900.3 445.1,3880 C447.02,3859.7 448.63,3855.1 450.8,3835.6 C452.97,3816.1 456.08,3787.2 458.1,3763 C460.12,3738.8 461.67,3706.57 462.9,3690.4 C464.13,3674.23 464.68,3671.4 465.5,3666 C466.32,3660.6 467.05,3657.67 467.8,3658 C468.55,3658.33 469.37,3662.6 470,3668 C470.63,3673.4 470.77,3674.57 471.6,3690.4 C472.43,3706.23 473.93,3738.8 475,3763 C476.07,3787.2 477.42,3816.1 478,3835.6 C478.58,3855.1 478.17,3862.92 478.5,3880 C478.83,3897.08 478.78,3915.52 480,3938.1 C481.22,3960.68 484.38,3997.68 485.8,4015.5 C487.22,4033.32 487.67,4038.42 488.5,4045 C489.33,4051.58 489.88,4054.17 490.8,4055 C491.72,4055.83 492.58,4054.65 494,4050 C495.42,4045.35 496.8,4037.37 499.3,4027.1 C501.8,4016.83 505.45,4003.23 509,3988.4 C512.55,3973.57 517.77,3952.83 520.6,3938.1 C523.43,3923.37 524.07,3911.35 526,3900 C527.93,3888.65 529.8,3882.33 532.2,3870 C534.6,3857.67 536.62,3845.45 540.4,3826 C544.18,3806.55 551.47,3769.63 554.9,3753.3 C558.33,3736.97 558.98,3734.72 561,3728 C563.02,3721.28 565.17,3714 567,3713 C568.83,3712 570.38,3718.5 572,3722 C573.62,3725.5 574.55,3729.18 576.7,3734 C578.85,3738.82 582.52,3749.57 584.9,3750.9 C587.28,3752.23 588.73,3744.58 591,3742 C593.27,3739.42 596.17,3735.73 598.5,3735.4 C600.83,3735.07 602.58,3737.82 605,3740 C607.42,3742.18 609.65,3745.32 613,3748.5 C616.35,3751.68 621.07,3758.3 625.1,3759.1 C629.13,3759.9 632.77,3757.48 637.2,3753.3 C641.63,3749.12 648.23,3739.88 651.7,3734 C655.17,3728.12 655.7,3723.67 658,3718 C660.3,3712.33 662.8,3707.3 665.5,3700 C668.2,3692.7 670.8,3681.72 674.2,3674.2 C677.6,3666.68 681.6,3662.27 685.9,3654.9 C690.2,3647.53 696.35,3635.48 700,3630 C703.65,3624.52 704.9,3624.95 707.8,3622 C710.7,3619.05 713.53,3615.53 717.4,3612.3 C721.27,3609.07 726.15,3605.35 731,3602.6 C735.85,3599.85 741.33,3597.73 746.5,3595.8 C751.67,3593.87 757.17,3590.18 762,3591 C766.83,3591.82 771.32,3597.8 775.5,3600.7 C779.68,3603.6 782.93,3604.59 787.1,3608.4 C791.27,3612.21 796.15,3618.2 800.55,3623.55 C804.95,3628.9 809.33,3634.51 813.51,3640.51 C817.69,3646.51 821.71,3652.96 825.62,3659.55 C829.54,3666.14 833.21,3672.97 836.99,3680.02 C840.78,3687.08 844.48,3694.31 848.35,3701.89 C852.22,3709.47 856.25,3717.49 860.2,3725.5 C864.15,3733.51 868.23,3742 872.06,3749.97 C875.88,3757.94 879.58,3765.8 883.17,3773.31 C886.76,3780.82 890.04,3787.56 893.61,3795.04 C897.17,3802.52 900.64,3809.78 904.55,3818.19 C908.46,3826.61 912.77,3836.24 917.06,3845.52 C921.34,3854.8 926.05,3865.1 930.26,3873.89 C934.48,3882.69 938.55,3890.8 942.34,3898.27 C946.12,3905.74 949.49,3912.11 952.97,3918.73 C956.45,3925.34 959.78,3931.65 963.22,3937.96 C966.67,3944.26 970.09,3950.52 973.65,3956.57 C977.21,3962.62 980.58,3968.38 984.57,3974.27 C988.57,3980.17 992.72,3985.96 997.64,3991.93 C1002.57,3997.9 1008.32,4004.21 1014.14,4010.11 C1019.96,4016 1026.51,4022.07 1032.56,4027.32 C1038.62,4032.57 1044.62,4037.35 1050.46,4041.59 C1056.31,4045.84 1061.79,4049.34 1067.64,4052.79 C1073.49,4056.24 1079.44,4059.22 1085.56,4062.29 C1091.68,4065.35 1098.01,4068.26 1104.36,4071.18 C1110.72,4074.1 1116.72,4076.87 1123.71,4079.82 C1130.69,4082.77 1137.61,4085.57 1146.28,4088.89 C1154.95,4092.21 1164.88,4095.74 1175.74,4099.73 C1186.61,4103.73 1199.1,4108.42 1211.47,4112.85 C1223.84,4117.28 1236.98,4122.25 1249.97,4126.33 C1262.95,4130.41 1276.18,4134.25 1289.38,4137.31 C1302.57,4140.38 1315.93,4142.69 1329.12,4144.72 C1342.32,4146.74 1355.48,4148.09 1368.53,4149.46 C1381.58,4150.82 1394.49,4151.85 1407.43,4152.9 C1420.37,4153.95 1433.26,4154.83 1446.17,4155.75 C1459.08,4156.67 1471.99,4157.46 1484.89,4158.4 C1497.8,4159.34 1510.7,4160.37 1523.61,4161.38 C1536.51,4162.38 1549.42,4163.53 1562.33,4164.46 C1575.24,4165.39 1588.26,4166.23 1601.07,4166.96 C1613.88,4167.68 1626.89,4168.24 1639.19,4168.82 C1651.49,4169.41 1663.48,4169.92 1674.86,4170.48 C1686.25,4171.04 1700.98,4172.61 1707.5,4172.2 C1714.02,4171.79 1712.38,4169.48 1714,4168 C1715.62,4166.52 1716.37,4157.3 1717.2,4163.3 C1718.03,4169.3 1718.7,4197.22 1719,4204" fill="none" stroke="#00f" stroke-width="7.3" stroke-linejoin="round" stroke-linecap="butt"/>
<rect x="234.65" y="3042.85" width="1487.75" height="1201" fill="none" stroke="#000" stroke-width="5.5"/>
<line x1="399.9" y1="4241.2" x2="399.9" y2="4220.2" stroke="#000" stroke-width="5"/>
<line x1="730.5" y1="4241.2" x2="730.5" y2="4220.2" stroke="#000" stroke-width="5"/>
<line x1="1061.1" y1="4241.2" x2="1061.1" y2="4220.2" stroke="#000" stroke-width="5"/>
<line x1="1391.7" y1="4241.2" x2="1391.7" y2="4220.2" stroke="#000" stroke-width="5"/>
<line x1="565.2" y1="4241.2" x2="565.2" y2="4231.7" stroke="#000" stroke-width="5"/>
<line x1="895.8" y1="4241.2" x2="895.8" y2="4231.7" stroke="#000" stroke-width="5"/>
<line x1="1226.4" y1="4241.2" x2="1226.4" y2="4231.7" stroke="#000" stroke-width="5"/>
<line x1="1557" y1="4241.2" x2="1557" y2="4231.7" stroke="#000" stroke-width="5"/>
<text font-size="63" transform="translate(383.16 4317.8) scale(0.9850 1.0220)">0</text>
<text font-size="63" transform="translate(677.81 4317.8) scale(0.9850 1.0220)">100</text>
<text font-size="63" transform="translate(1009.39 4317.8) scale(0.9850 1.0220)">200</text>
<text font-size="63" transform="translate(1340 4317.8) scale(0.9850 1.0220)">300</text>
<text font-size="63" transform="translate(1671.58 4317.8) scale(0.9850 1.0220)">400</text>
<text font-size="80" transform="translate(669.01 4430.3) scale(0.9946 1.0400)">Temperature (°C)</text>
<text font-size="79" transform="translate(134.6 3925.01) rotate(-90) scale(1.0040 1.0400)">TCD Signal (a.u.)</text>
<text font-size="134.4" font-weight="bold" transform="translate(1559.68 3212.6) scale(0.9848 1.0250)">c</text>
<rect x="911.6" y="3329.9" width="638.8" height="237.7" fill="#fff" stroke="#000" stroke-width="2.2"/>
<line x1="916.3" y1="3372.4" x2="1061.5" y2="3372.4" stroke="#000" stroke-width="6.6"/>
<line x1="916.3" y1="3449.4" x2="1061.5" y2="3449.4" stroke="#f00" stroke-width="6.6"/>
<line x1="916.3" y1="3525.2" x2="1061.5" y2="3525.2" stroke="#00f" stroke-width="6.6"/>
<text font-size="62.5" transform="translate(1076.02 3394) scale(0.9970 1.0440)">Re5Pd3-SI (400)</text>
<text font-size="62.5" transform="translate(1076.02 3470.7) scale(0.9970 1.0440)">Pd3Re5-SI</text>
<text font-size="62.5" transform="translate(1076.02 3547) scale(0.9970 1.0440)">Re5Pd3-SI (350)</text>
</g></svg></body></html>
